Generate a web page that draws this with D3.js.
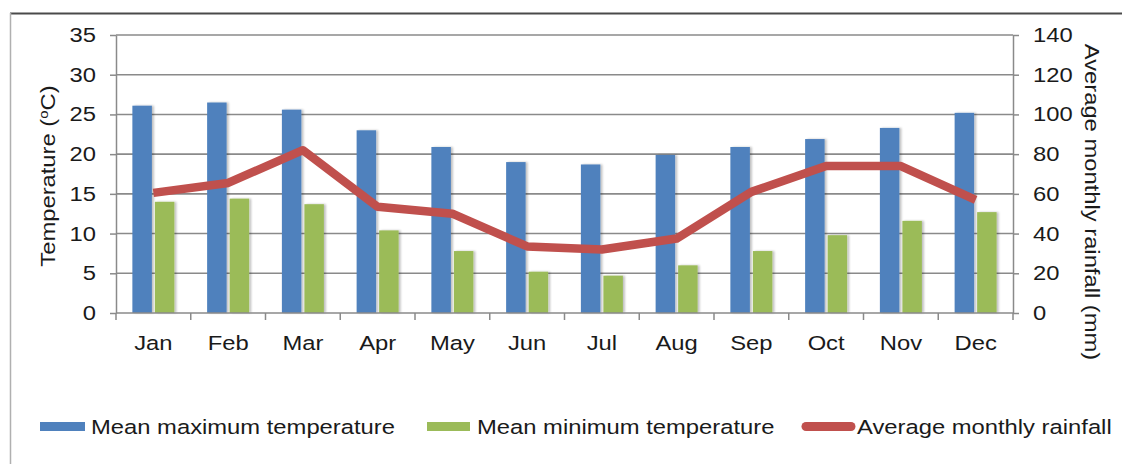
<!DOCTYPE html>
<html><head><meta charset="utf-8">
<script src="https://cdn.jsdelivr.net/npm/d3@7"></script>
<style>body{margin:0;background:#fff;}svg{display:block;font-family:"Liberation Sans",Arial,sans-serif;}</style>
</head><body>
<svg id="c" width="1122" height="464"></svg>
<script>
const months = ["Jan","Feb","Mar","Apr","May","Jun","Jul","Aug","Sep","Oct","Nov","Dec"];
const maxTemp = [26.1,26.5,25.6,23.0,20.9,19.0,18.7,19.9,20.9,21.9,23.3,25.2];
const minTemp = [14.0,14.4,13.7,10.4,7.8,5.2,4.7,6.0,7.8,9.8,11.6,12.7];
const rainfall = [60.5,65.5,82,53.5,50,33.5,32,37.5,61,74,74,57];
const tempTicks = [0,5,10,15,20,25,30,35];
const rainTicks = [0,20,40,60,80,100,120,140];
const seriesNames = ["Mean maximum temperature","Mean minimum temperature","Average monthly rainfall"];
const colors = {max:"#4F81BD", min:"#9BBB59", rain:"#C0504D"};

const FS = 20.5, STRETCH = 1.16, TXT = "#1a1a1a";
const svg = d3.select("#c");
const L = 116, R = 1013, T = 35, B = 313;

// frame
svg.append("line").attr("x1",10).attr("x2",1122).attr("y1",13.5).attr("y2",13.5).attr("stroke","#4a4a4a").attr("stroke-width",2);
svg.append("line").attr("x1",10.5).attr("x2",10.5).attr("y1",13).attr("y2",464).attr("stroke","#b0b0b0").attr("stroke-width",1.5);

const x = d3.scaleBand().domain(months).range([L,R]).paddingInner(0).paddingOuter(0);
const yT = d3.scaleLinear().domain([0,35]).range([B,T]);
const yR = d3.scaleLinear().domain([0,140]).range([B,T]);

// gridlines
svg.append("g").selectAll("line").data(tempTicks.filter(d=>d>0)).join("line")
  .attr("x1",L).attr("x2",R).attr("y1",d=>yT(d)).attr("y2",d=>yT(d))
  .attr("stroke","#8a8a8a").attr("stroke-width",1.6);

const bw = 19.5, gap = 3;
const defs = svg.append("defs");
const f = defs.append("filter").attr("id","sh").attr("x","-30%").attr("y","-10%").attr("width","160%").attr("height","120%");
f.append("feGaussianBlur").attr("in","SourceAlpha").attr("stdDeviation",1.2).attr("result","b");
f.append("feOffset").attr("in","b").attr("dx",1.5).attr("dy",0).attr("result","o");
f.append("feComponentTransfer").attr("in","o").attr("result","o2").append("feFuncA").attr("type","linear").attr("slope",0.25);
const m = f.append("feMerge"); m.append("feMergeNode").attr("in","o2"); m.append("feMergeNode").attr("in","SourceGraphic");

const bars = svg.append("g").attr("filter","url(#sh)");
bars.selectAll("rect.mx").data(months).join("rect").attr("class","mx")
  .attr("x",(d)=>x(d)+x.bandwidth()/2 - gap/2 - bw)
  .attr("width",bw).attr("y",(d,i)=>yT(maxTemp[i])).attr("height",(d,i)=>yT(0)-yT(maxTemp[i]))
  .attr("fill",colors.max);
bars.selectAll("rect.mn").data(months).join("rect").attr("class","mn")
  .attr("x",(d)=>x(d)+x.bandwidth()/2 + gap/2)
  .attr("width",bw).attr("y",(d,i)=>yT(minTemp[i])).attr("height",(d,i)=>yT(0)-yT(minTemp[i]))
  .attr("fill",colors.min);

// rainfall line
const line = d3.line().x((d,i)=>x(months[i])+x.bandwidth()/2).y(d=>yR(d));
svg.append("path").datum(rainfall).attr("d",line).attr("fill","none")
  .attr("stroke",colors.rain).attr("stroke-width",8.5).attr("stroke-linejoin","round").attr("stroke-linecap","butt");

// axes
const axisColor = "#8a8a8a";
function styleAxis(g){
  g.selectAll(".domain").attr("stroke",axisColor).attr("stroke-width",1.5);
  g.selectAll(".tick line").attr("stroke",axisColor).attr("stroke-width",1.5);
  g.selectAll("text").attr("fill",TXT).attr("class","st").style("font-size",FS+"px").style("font-family","'Liberation Sans',Arial,sans-serif");
}
const gl = svg.append("g").attr("transform",`translate(${L},0)`)
  .call(d3.axisLeft(yT).tickValues(tempTicks).tickSize(6).tickSizeOuter(0).tickPadding(14));
styleAxis(gl);
const gr = svg.append("g").attr("transform",`translate(${R},0)`)
  .call(d3.axisRight(yR).tickValues(rainTicks).tickSize(6).tickSizeOuter(0).tickPadding(14));
styleAxis(gr);

const gx = svg.append("g").attr("transform",`translate(0,${B})`)
  .call(d3.axisBottom(x).tickSize(0).tickPadding(22));
styleAxis(gx);
gx.selectAll(".domain").attr("d",`M${L},0H${R}`);
gx.selectAll("line.bt").data(d3.range(13)).join("line").attr("class","bt")
  .attr("x1",i=>L + i*x.step()).attr("x2",i=>L + i*x.step()).attr("y1",0).attr("y2",7)
  .attr("stroke",axisColor).attr("stroke-width",1.5);

// axis titles (stretched along writing direction)
const lt = svg.append("text").attr("transform",`translate(55,176) rotate(-90) scale(${STRETCH},1)`).attr("text-anchor","middle")
  .style("font-size",FS+"px").attr("fill",TXT);
lt.append("tspan").text("Temperature (");
lt.append("tspan").text("o").attr("dy",-7).style("font-size","13px");
lt.append("tspan").text("C)").attr("dy",7);
svg.append("text").attr("transform",`translate(1085,202) rotate(90) scale(${STRETCH},1)`).attr("text-anchor","middle")
  .style("font-size",FS+"px").attr("fill",TXT).text("Average monthly rainfall (mm)");

// legend
const leg = svg.append("g");
const ly = 426.5;
leg.append("rect").attr("x",40).attr("y",ly-4.5).attr("width",45).attr("height",9).attr("fill",colors.max);
leg.append("text").attr("class","st").attr("x",91).attr("y",ly+7).style("font-size",FS+"px").attr("fill",TXT).text(seriesNames[0]);
leg.append("rect").attr("x",427).attr("y",ly-4.5).attr("width",43).attr("height",9).attr("fill",colors.min);
leg.append("text").attr("class","st").attr("x",477).attr("y",ly+7).style("font-size",FS+"px").attr("fill",TXT).text(seriesNames[1]);
leg.append("line").attr("x1",806).attr("x2",851).attr("y1",ly).attr("y2",ly).attr("stroke",colors.rain).attr("stroke-width",9).attr("stroke-linecap","round");
leg.append("text").attr("class","st").attr("x",857).attr("y",ly+7).style("font-size",FS+"px").attr("fill",TXT).text(seriesNames[2]);

// horizontal stretch of simple texts
svg.selectAll("text.st").each(function(){
  const len = this.getComputedTextLength();
  d3.select(this).attr("textLength",len*STRETCH).attr("lengthAdjust","spacingAndGlyphs");
});
</script>
</body></html>
